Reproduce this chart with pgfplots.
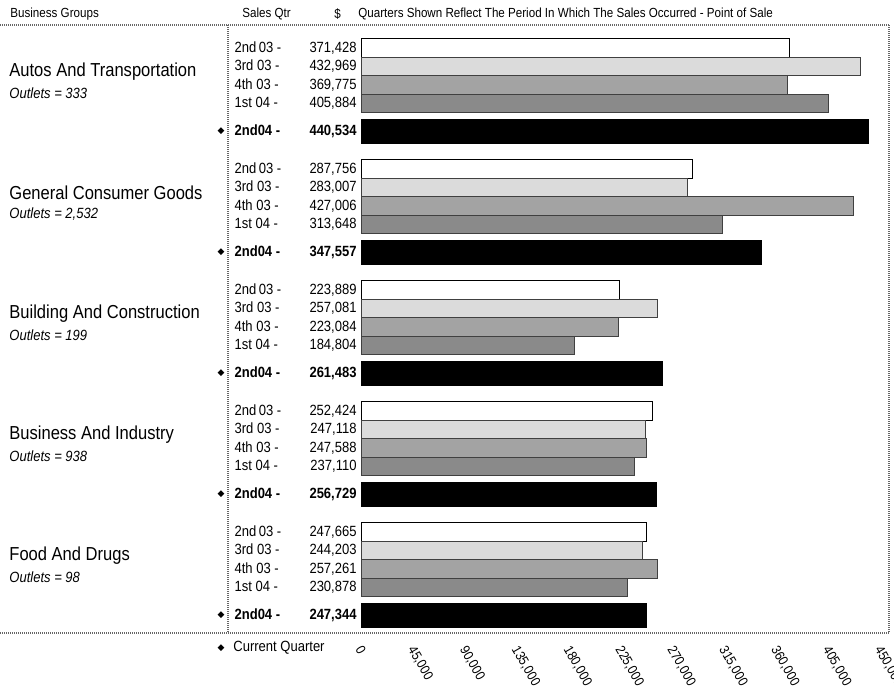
\documentclass[border=0pt]{standalone}
\usepackage{fontspec}
\setmainfont{Liberation Sans}[FakeStretch=0.88]
\newfontfamily\symfont{DejaVu Sans}
\usepackage{pgfplots}
\pgfplotsset{compat=1.18}
\newcommand\ql[2]{\makebox[33pt][l]{#1}\makebox[28pt][r]{#2}}
\definecolor{lightq}{gray}{0.86}
\definecolor{midq}{gray}{0.64}
\definecolor{darkq}{gray}{0.54}
\begin{document}
\begin{tikzpicture}
\begin{axis}[
  at={(180.5pt,-12.5pt)}, anchor=north west,
  scale only axis, width=264pt, height=304pt,
  xmin=0, xmax=458000, ymin=25, ymax=633, y dir=reverse,
  xbar, bar shift=0pt,
  axis line style={draw=none},
  major tick length=0pt,
  clip=false,
  xtick={0,45000,90000,135000,180000,225000,270000,315000,360000,405000,450000},
  xticklabels={0,{45,000},{90,000},{135,000},{180,000},{225,000},{270,000},{315,000},{360,000},{405,000},{450,000}},
  xticklabel style={xshift=-1pt, yshift=-7pt, rotate=-60, anchor=west, inner sep=0pt, font=\fontsize{6.8}{8}\selectfont},
  ytick={48,66.5,85,103.5,131,169,187.5,206,224.5,252,290,308.5,327,345.5,373,411,429.5,448,466.5,494,532,550.5,569,587.5,615},
  yticklabels={
    \ql{2nd\,03 -}{371,428},\ql{3rd 03 -}{432,969},\ql{4th 03 -}{369,775},\ql{1st 04 -}{405,884},{\bfseries\ql{2nd04 -}{440,534}},
    \ql{2nd\,03 -}{287,756},\ql{3rd 03 -}{283,007},\ql{4th 03 -}{427,006},\ql{1st 04 -}{313,648},{\bfseries\ql{2nd04 -}{347,557}},
    \ql{2nd\,03 -}{223,889},\ql{3rd 03 -}{257,081},\ql{4th 03 -}{223,084},\ql{1st 04 -}{184,804},{\bfseries\ql{2nd04 -}{261,483}},
    \ql{2nd\,03 -}{252,424},\ql{3rd 03 -}{247,118},\ql{4th 03 -}{247,588},\ql{1st 04 -}{237,110},{\bfseries\ql{2nd04 -}{256,729}},
    \ql{2nd\,03 -}{247,665},\ql{3rd 03 -}{244,203},\ql{4th 03 -}{257,261},\ql{1st 04 -}{230,878},{\bfseries\ql{2nd04 -}{247,344}}},
  yticklabel style={anchor=east, inner sep=0pt, xshift=-2pt, font=\fontsize{7.4}{8}\selectfont},
]
\addplot[draw=black, fill=white, bar width=18.5, line width=0.5pt] coordinates {(371428,48) (287756,169) (223889,290) (252424,411) (247665,532)};
\addplot[draw=black!75, fill=lightq, bar width=18.5, line width=0.5pt] coordinates {(432969,66.5) (283007,187.5) (257081,308.5) (247118,429.5) (244203,550.5)};
\addplot[draw=black!75, fill=midq, bar width=18.5, line width=0.5pt] coordinates {(369775,85) (427006,206) (223084,327) (247588,448) (257261,569)};
\addplot[draw=black!75, fill=darkq, bar width=18.5, line width=0.5pt] coordinates {(405884,103.5) (313648,224.5) (184804,345.5) (237110,466.5) (230878,587.5)};
\addplot[draw=black, fill=black, bar width=24, line width=0.5pt] coordinates {(440534,131) (347557,252) (261483,373) (256729,494) (247344,615)};
\end{axis}
\begin{scope}[x=0.5pt,y=-0.5pt]
  \tikzset{dotline/.style={black!60, line width=0.8pt, dash pattern=on 0.5pt off 0.5pt}}
  \draw[dotline] (0,25) -- (889,25);
  \draw[dotline] (0,633) -- (889,633);
  \draw[dotline] (228,25) -- (228,633);
  \draw[dotline] (889,25) -- (889,633);
  \begin{scope}[every node/.style={inner sep=0pt, anchor=west, font=\fontsize{6.6}{8}\selectfont}]
    \node at (10,14) {Business Groups};
    \node at (242,14) {Sales Qtr};
    \node at (334,14) {\$};
    \node at (358,14) {Quarters Shown Reflect The Period In Which The Sales Occurred - Point of Sale};
  \end{scope}
  \begin{scope}[every node/.style={inner sep=0pt, anchor=west, font=\fontsize{9.4}{11}\selectfont}]
    \node at (9,72) {Autos And Transportation};
    \node at (9,193) {General Consumer Goods};
    \node at (9,314) {Building And Construction};
    \node at (9,435) {Business And Industry};
    \node at (9,556) {Food And Drugs};
  \end{scope}
  \begin{scope}[every node/.style={inner sep=0pt, anchor=west, font=\fontsize{7.4}{9}\selectfont\itshape}]
    \node at (9,93) {Outlets = 333};
    \node at (9,214) {Outlets = 2,532};
    \node at (9,335) {Outlets = 199};
    \node at (9,456) {Outlets = 938};
    \node at (9,577) {Outlets = 98};
  \end{scope}
  \begin{scope}[every node/.style={inner sep=0pt, font=\fontsize{4.5}{5}\symfont}]
    \node at (221,131) {◆};
    \node at (221,252) {◆};
    \node at (221,373) {◆};
    \node at (221,494) {◆};
    \node at (221,615) {◆};
    \node at (221,648) {◆};
  \end{scope}
  \node[inner sep=0pt, anchor=west, font=\fontsize{7.4}{9}\selectfont] at (233,648) {Current Quarter};
\end{scope}
\pgfresetboundingbox
\path[use as bounding box] (0,0) rectangle (447pt,-346pt);
\end{tikzpicture}
\end{document}
